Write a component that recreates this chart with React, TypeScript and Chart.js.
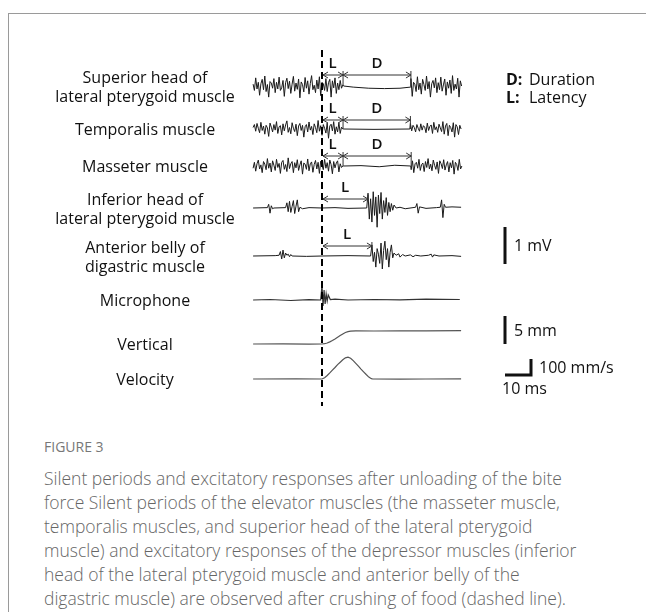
import React, { useEffect, useRef } from "react";
import { Chart, registerables } from "chart.js";

Chart.register(...registerables);

// ---------------- data ----------------
const ROW_LABELS: string[][] = [
  ["Superior head of", "lateral pterygoid muscle"],
  ["Temporalis muscle"],
  ["Masseter muscle"],
  ["Inferior head of", "lateral pterygoid muscle"],
  ["Anterior belly of", "digastric muscle"],
  ["Microphone"],
  ["Vertical"],
  ["Velocity"],
];

const CRUSH_MS = 0; // dashed line: crushing of food
const EMG_STEP_MS = 0.5;
const TRACE_START_MS = -26.5;

// latency (L) of each EMG response, ms after crushing
const latencyMs = [8.1, 8.1, 8.1, 17.7, 19.2];
// end of the silent period (L + D), ms after crushing
const silentEndMs = [34.2, 34.0, 34.3];

// elevator muscles (mV), sampled every 0.5 ms
const superiorPre = [0.05,-0.12,0.22,-0.08,0.10,-0.25,0.06,0.18,-0.10,0.27,-0.15,0.04,-0.30,0.12,0.08,-0.06,0.20,-0.18,0.10,-0.08,0.24,-0.12,-0.05,0.15,-0.28,0.09,0.21,-0.07,0.13,-0.20,0.05,0.26,-0.14,0.08,-0.09,0.19,-0.32,0.11,0.04,-0.16,0.23,-0.06,0.14,-0.22,0.07,0.28,-0.10,0.02,-0.18,0.16,-0.08,0.25,-0.26,0.10,0.06,-0.12,0.20,-0.15,0.09,0.18,-0.30,0.14,-0.05,0.22,-0.20,0.08,-0.10,0.15,-0.06,0.03];
const superiorSilent: [number, number][] = [[8.3,0.0],[12,-0.03],[18,-0.06],[24,-0.07],[30,-0.06],[34.0,-0.03]];
const superiorPost = [0.20,-0.28,0.10,0.05,-0.15,0.25,-0.10,0.08,-0.22,0.18,0.04,-0.12,0.27,-0.08,0.12,-0.30,0.06,0.15,-0.05,0.22,-0.18,0.09,-0.10,0.24,-0.14,0.03,0.19,-0.25,0.11,-0.06,0.16,-0.20,0.28,-0.12,0.05,-0.08,0.21,-0.30,0.14,0.0];

const temporalisPre = [0.04,0.12,-0.06,0.15,0.02,-0.10,0.18,-0.04,0.08,-0.14,0.10,0.03,-0.20,0.16,0.05,-0.08,0.12,-0.03,0.20,-0.12,0.06,0.09,-0.16,0.14,-0.05,0.11,0.22,-0.09,0.04,-0.13,0.17,0.02,-0.07,0.13,-0.18,0.08,0.15,-0.04,0.10,-0.22,0.06,0.12,-0.08,0.19,-0.03,0.07,-0.15,0.14,0.04,-0.10,0.23,-0.06,0.09,-0.17,0.12,0.02,-0.11,0.16,-0.25,0.08,0.13,-0.05,0.20,-0.14,0.06,-0.08,0.17,-0.12,0.05,0.0];
const temporalisSilent: [number, number][] = [[8.3,0.0],[20,-0.01],[33.8,0.0]];
const temporalisPost = [0.15,-0.05,0.10,0.04,-0.08,0.12,0.02,-0.06,0.14,-0.03,0.09,0.05,-0.10,0.16,-0.04,0.07,0.11,-0.12,0.18,-0.02,0.06,-0.09,0.13,0.03,-0.07,0.20,-0.14,0.08,0.15,-0.18,0.10,0.04,-0.08,0.17,-0.22,0.12,0.06,-0.15,0.10,0.0];

const masseterPre = [-0.06,0.10,-0.14,0.06,0.16,-0.08,0.03,-0.18,0.12,0.05,-0.10,0.20,-0.06,0.08,-0.16,0.14,0.02,-0.12,0.18,-0.04,0.07,-0.20,0.10,0.15,-0.09,0.04,-0.15,0.22,-0.07,0.06,0.12,-0.18,0.09,-0.05,0.17,-0.12,0.03,0.14,-0.22,0.08,0.05,-0.09,0.19,-0.13,0.06,0.11,-0.17,0.04,0.15,-0.08,0.10,-0.20,0.13,0.02,-0.10,0.18,-0.06,0.09,-0.14,0.16,0.04,-0.21,0.12,-0.05,0.08,0.14,-0.16,0.06,-0.04,0.0];
const masseterSilent: [number, number][] = [[8.3,0.0],[15,0.01],[22,-0.02],[28,0.02],[34.1,0.0]];
const masseterPost = [-0.10,0.14,-0.18,0.06,0.10,-0.06,0.18,-0.12,0.04,0.08,-0.15,0.12,-0.04,0.20,-0.08,0.05,-0.13,0.16,0.02,-0.09,0.11,-0.20,0.14,0.06,-0.07,0.17,-0.11,0.03,0.12,-0.16,0.09,-0.05,0.15,-0.22,0.10,0.04,-0.12,0.18,-0.08,0.0];

// depressor muscles (mV), [ms, mV]
const inferiorTrace: [number, number][] = [[-26.5,0],[-21,0.01],[-20.5,0.1],[-20,-0.14],[-19.5,0.06],[-19,-0.02],[-18.5,0],[-14,0.01],[-13.5,0.14],[-13,-0.1],[-12.5,0.18],[-12,-0.12],[-11.5,0.04],[-11,0.2],[-10.5,-0.15],[-10,0.05],[-9.5,0.22],[-9,-0.1],[-8.5,0.02],[-7.5,-0.02],[-5,0.01],[0,0],[5,0.01],[10,-0.01],[17.2,0],[17.7,0.4],[18.2,-0.3],[18.7,0.25],[19.2,-0.38],[19.7,0.44],[20.2,-0.2],[20.7,0.3],[21.2,-0.52],[21.7,0.35],[22.2,-0.15],[22.7,0.42],[23.2,-0.3],[23.7,0.2],[24.2,-0.12],[24.7,0.28],[25.2,-0.2],[25.7,0.15],[26.2,-0.1],[26.7,0.12],[27.2,-0.06],[27.7,0.08],[28.5,0],[30,0.02],[32,-0.02],[35,0.01],[36,0.02],[36.5,0.12],[37,-0.14],[37.5,0.03],[40,-0.01],[44,0.01],[45.5,0.02],[46,0.22],[46.5,-0.26],[47,0.1],[47.5,0.02],[50,0.03],[53.5,0.02]];
const anteriorTrace: [number, number][] = [[-26.5,0],[-18,0.01],[-16.5,0.02],[-16,0.12],[-15.5,-0.08],[-15,0.16],[-14.5,-0.05],[-14,0.08],[-13.5,0.02],[-13,0.05],[-12.5,-0.02],[-12,0.04],[-11.5,0],[-6,-0.01],[0,0],[10,0.01],[18.7,0],[19.2,0.3],[19.7,-0.15],[20.2,0.1],[20.7,-0.3],[21.2,0.2],[21.7,0.05],[22.2,-0.2],[22.7,0.35],[23.2,-0.35],[23.7,0.15],[24.2,0.4],[24.7,-0.1],[25.2,0.2],[25.7,-0.3],[26.2,0.1],[26.7,0.3],[27.2,-0.05],[27.7,0.08],[28.5,0.02],[29.5,0.06],[30,-0.03],[31,0.04],[32,0.0],[34,0.03],[35,-0.02],[36,0.02],[38,0],[41,0.02],[42,0.05],[42.5,-0.03],[43,0.03],[45,0],[50,0.01],[53.5,-0.01]];

// microphone (a.u.), [ms, value]
const microphoneTrace: [number, number][] = [[-26.5,0],[-20,0.05],[-12,-0.05],[-5,0.03],[-0.5,0],[0,1.5],[0.4,-0.6],[0.8,1.0],[1.2,-0.4],[1.6,0.6],[2.0,-0.1],[2.4,0.5],[3.2,0.05],[5,0.08],[10,0],[20,0.05],[30,0.02],[40,0.08],[53,0.05]];
// vertical jaw displacement (mm)
const verticalTrace: [number, number][] = [[-26.5,0],[-15,0.02],[-5,-0.01],[0,0],[1,0.05],[2,0.18],[3,0.38],[4,0.62],[5,0.9],[6,1.2],[7,1.5],[8,1.8],[9,2.05],[10,2.22],[11,2.3],[13,2.33],[20,2.32],[30,2.34],[40,2.33],[53.5,2.38]];
// jaw velocity (mm/s)
const velocityTrace: [number, number][] = [[-26.5,0],[-10,0.5],[0,0],[1,8],[2,22],[3,38],[4,55],[5,72],[6,90],[7,105],[8,120],[9,132],[10,137],[11,130],[12,115],[13,98],[14,80],[15,62],[16,45],[17,28],[18,12],[19,2],[19.5,0],[30,-1],[40,0],[53.5,1]];

// scale bars
const SCALE_MV = 1;
const SCALE_MM = 5;
const SCALE_MMS = 100;
const SCALE_MS = 10;

// ---------------- layout ----------------
const CW = 646;
const CH = 430;
const DASH_X = 322;
const PX_PER_MS = 2.6;
const ROW_BASE = [86, 129, 166, 208, 256, 300, 344, 379];
const GAIN = [37, 37, 37, 37, 37, 10, 5.6, 0.16]; // px per unit
const ARROW_Y = [75, 120, 156, 199, 246];
const LABEL_X = 145;
const FONT = '"Open Sans", "Noto Sans", sans-serif';

function sampled(start: number, vals: number[]) {
  return vals.map((v, i) => ({ x: start + i * EMG_STEP_MS, y: v }));
}
function pairs(p: [number, number][]) {
  return p.map(([x, y]) => ({ x, y }));
}
function elevator(pre: number[], silent: [number, number][], post: number[], endMs: number) {
  return [...sampled(TRACE_START_MS, pre), ...pairs(silent), ...sampled(endMs, post)];
}

const traces = [
  elevator(superiorPre, superiorSilent, superiorPost, silentEndMs[0]),
  elevator(temporalisPre, temporalisSilent, temporalisPost, silentEndMs[1]),
  elevator(masseterPre, masseterSilent, masseterPost, silentEndMs[2]),
  pairs(inferiorTrace),
  pairs(anteriorTrace),
  pairs(microphoneTrace),
  pairs(verticalTrace),
  pairs(velocityTrace),
];
const traceColor = ["#1a1a1a", "#1a1a1a", "#1a1a1a", "#1a1a1a", "#1a1a1a", "#333", "#555", "#555"];

function drawArrow(ctx: CanvasRenderingContext2D, x1: number, x2: number, y: number) {
  ctx.beginPath();
  ctx.moveTo(x1, y);
  ctx.lineTo(x2, y);
  ctx.moveTo(x1 + 5, y - 3);
  ctx.lineTo(x1, y);
  ctx.lineTo(x1 + 5, y + 3);
  ctx.moveTo(x2 - 5, y - 3);
  ctx.lineTo(x2, y);
  ctx.lineTo(x2 - 5, y + 3);
  ctx.stroke();
}

const overlay = {
  id: "overlay",
  afterDatasetsDraw(chart: any) {
    const ctx: CanvasRenderingContext2D = chart.ctx;
    const xs = chart.scales.x;
    const px = (t: number) => xs.getPixelForValue(t);
    const x0 = px(CRUSH_MS);
    ctx.save();

    // dashed line
    ctx.strokeStyle = "#000";
    ctx.lineWidth = 2;
    ctx.setLineDash([7, 4]);
    ctx.beginPath();
    ctx.moveTo(x0, 50);
    ctx.lineTo(x0, 406);
    ctx.stroke();
    ctx.setLineDash([]);

    // arrows
    ctx.strokeStyle = "#333";
    ctx.lineWidth = 1;
    ctx.fillStyle = "#111";
    ctx.font = `600 15px ${FONT}`;
    ctx.textAlign = "center";
    ctx.textBaseline = "middle";
    latencyMs.forEach((lat, i) => {
      const xl = px(CRUSH_MS + lat);
      const ay = ARROW_Y[i];
      drawArrow(ctx, x0 + 1, xl, ay);
      ctx.beginPath();
      ctx.moveTo(xl, ay - 4);
      ctx.lineTo(xl, ROW_BASE[i] - (i < 3 ? 0 : 6));
      ctx.stroke();
      ctx.fillText("L", (x0 + xl) / 2, ay - 11);
      if (i < 3) {
        const xd = px(CRUSH_MS + silentEndMs[i]);
        drawArrow(ctx, xl, xd, ay);
        ctx.beginPath();
        ctx.moveTo(xd, ay - 4);
        ctx.lineTo(xd, ROW_BASE[i]);
        ctx.stroke();
        ctx.fillText("D", (xl + xd) / 2, ay - 11);
      }
    });

    // row labels
    ctx.fillStyle = "#111";
    ctx.font = `16px ${FONT}`;
    ROW_LABELS.forEach((lines, i) => {
      const c = ROW_BASE[i] + (lines.length > 1 ? 2 : 1);
      lines.forEach((s, j) => {
        ctx.fillText(s, LABEL_X, c + (j - (lines.length - 1) / 2) * 19);
      });
    });

    // legend
    ctx.textAlign = "left";
    ctx.font = `bold 16px ${FONT}`;
    ctx.fillText("D:", 506, 80);
    ctx.fillText("L:", 506, 98);
    ctx.font = `16px ${FONT}`;
    ctx.fillText("Duration", 529, 80);
    ctx.fillText("Latency", 529, 98);

    // scale bars
    const sb = (id: string, v: number) =>
      Math.abs(chart.scales[id].getPixelForValue(v) - chart.scales[id].getPixelForValue(0));
    ctx.strokeStyle = "#111";
    ctx.lineWidth = 3;
    ctx.lineCap = "butt";
    const mv = sb("y4", SCALE_MV);
    ctx.beginPath();
    ctx.moveTo(505, 227);
    ctx.lineTo(505, 227 + mv);
    const mm = sb("y6", SCALE_MM);
    ctx.moveTo(505, 316);
    ctx.lineTo(505, 316 + mm);
    const ms = Math.abs(px(SCALE_MS) - px(0));
    const vel = sb("y7", SCALE_MMS);
    ctx.moveTo(505, 375);
    ctx.lineTo(505 + ms, 375);
    ctx.lineTo(505 + ms, 375 - vel);
    ctx.stroke();
    ctx.font = `16px ${FONT}`;
    ctx.fillText(`${SCALE_MV} mV`, 514, 246);
    ctx.fillText(`${SCALE_MM} mm`, 514, 331);
    ctx.fillText(`${SCALE_MMS} mm/s`, 539, 368);
    ctx.fillText(`${SCALE_MS} ms`, 502, 389);
    ctx.restore();
  },
};

export default function App() {
  const ref = useRef<HTMLCanvasElement>(null);
  useEffect(() => {
    if (!ref.current) return;
    const yScales: any = {};
    ROW_BASE.forEach((b, i) => {
      yScales["y" + i] = {
        type: "linear",
        display: false,
        min: (b - CH) / GAIN[i],
        max: b / GAIN[i],
      };
    });
    const chart = new Chart(ref.current, {
      type: "line",
      data: {
        datasets: traces.map((d, i) => ({
          label: ROW_LABELS[i].join(" "),
          data: d,
          yAxisID: "y" + i,
          borderColor: traceColor[i],
          borderWidth: i < 5 ? 1 : 1.2,
          pointRadius: 0,
          tension: 0,
          fill: false,
        })),
      },
      options: {
        responsive: false,
        maintainAspectRatio: false,
        animation: false,
        events: [],
        layout: { padding: 0 },
        plugins: { legend: { display: false }, tooltip: { enabled: false } },
        scales: {
          x: {
            type: "linear",
            display: false,
            min: -DASH_X / PX_PER_MS,
            max: (CW - DASH_X) / PX_PER_MS,
          },
          ...yScales,
        },
      },
      plugins: [overlay],
    });
    return () => chart.destroy();
  }, []);

  return (
    <div style={{ position: "absolute", left: 0, top: 0, width: CW, height: 612, overflow: "hidden", background: "#fff" }}>
      <div
        style={{
          position: "absolute",
          left: 8,
          top: 13,
          width: 800,
          height: 800,
          borderTop: "1px solid #9a9a9a",
          borderLeft: "1px solid #9a9a9a",
        }}
      />
      <canvas
        ref={ref}
        width={CW}
        height={CH}
        style={{ position: "absolute", left: 0, top: 0, width: CW, height: CH }}
      />
      <div
        style={{
          position: "absolute",
          left: 44,
          top: 437,
          fontFamily: FONT,
          fontSize: 14,
          color: "#777",
          lineHeight: "20px",
        }}
      >
        FIGURE 3
      </div>
      <div
        style={{
          position: "absolute",
          left: 44,
          top: 466,
          fontFamily: FONT,
          fontSize: 17.5,
          fontWeight: 300,
          color: "#666",
          lineHeight: "24px",
          whiteSpace: "nowrap",
        }}
      >
        Silent periods and excitatory responses after unloading of the bite
        <br />
        force Silent periods of the elevator muscles (the masseter muscle,
        <br />
        temporalis muscles, and superior head of the lateral pterygoid
        <br />
        muscle) and excitatory responses of the depressor muscles (inferior
        <br />
        head of the lateral pterygoid muscle and anterior belly of the
        <br />
        digastric muscle) are observed after crushing of food (dashed line).
      </div>
    </div>
  );
}
